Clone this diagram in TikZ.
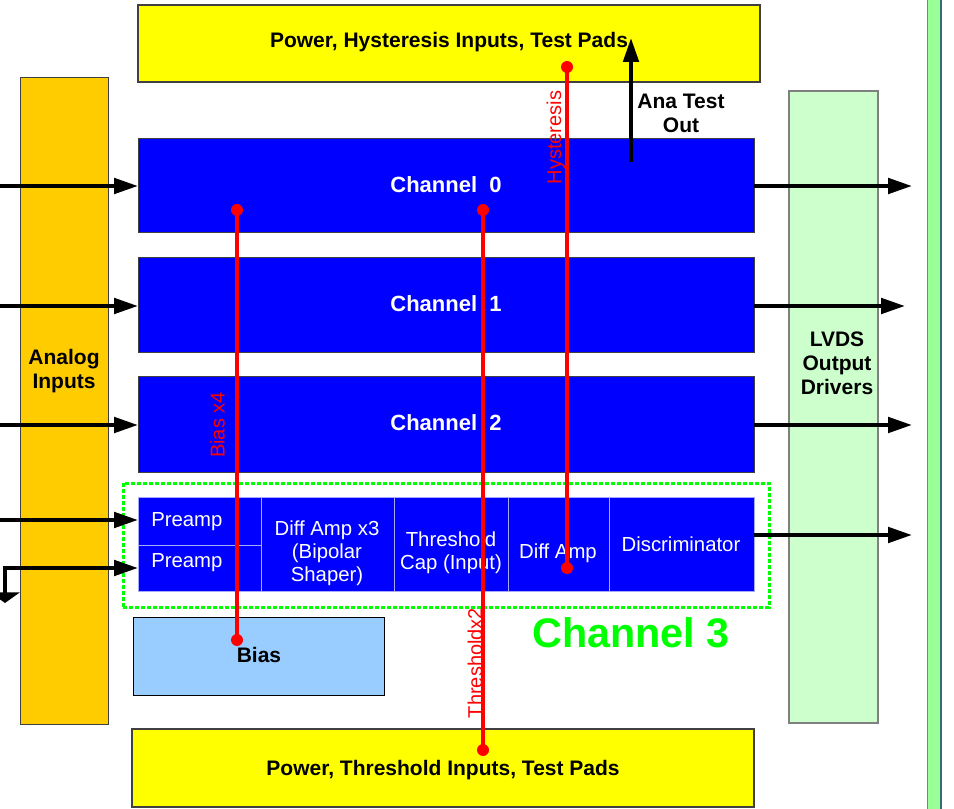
\documentclass[tikz,border=0pt]{standalone}
\usepackage{fontspec}
\setmainfont{Liberation Sans}
\usetikzlibrary{arrows.meta,fit}
\definecolor{padyellow}{HTML}{FFFF00}
\definecolor{inorange}{HTML}{FFCC00}
\definecolor{lvdsgreen}{HTML}{CCFFCC}
\definecolor{bargreen}{HTML}{99FF99}
\definecolor{barteal}{HTML}{307070}
\definecolor{chblue}{HTML}{0000FF}
\definecolor{biasblue}{HTML}{99CCFF}
\definecolor{sepblue}{HTML}{A8A8FF}
\definecolor{chgreen}{HTML}{00FF00}
\definecolor{edgegray}{HTML}{404040}
\begin{document}
\begin{tikzpicture}[x=0.75pt,y=-0.75pt,
  rect/.style={inner sep=0pt,outer sep=0pt},
  padbox/.style={rect,fill=padyellow,draw=edgegray,line width=1pt},
  inbox/.style={rect,fill=inorange,draw=edgegray,line width=0.75pt},
  lvdsbox/.style={rect,fill=lvdsgreen,draw=gray,line width=1pt},
  chbox/.style={rect,fill=chblue,draw=edgegray,line width=0.75pt},
  blk/.style={rect,fill=chblue,draw=sepblue,line width=0.75pt},
  biasbox/.style={rect,fill=biasblue,draw=black,line width=0.75pt},
  ch3frame/.style={rect,draw=chgreen,line width=2.25pt,dash pattern=on 3pt off 1.5pt},
  btxt/.style={inner sep=0pt,anchor=base,font=\bfseries\fontsize{15.75}{18}\selectfont},
  chtxt/.style={btxt,text=white,font=\bfseries\fontsize{16.5}{20}\selectfont},
  wtxt/.style={inner sep=0pt,anchor=base,text=white,font=\fontsize{15.25}{17.25}\selectfont},
  gtxt/.style={inner sep=0pt,anchor=base,text=chgreen,font=\bfseries\fontsize{31}{36}\selectfont},
  redlbl/.style={inner sep=0pt,text=red,rotate=90,font=\fontsize{15}{18}\selectfont},
  arr/.style={line width=3pt,-{Triangle[length=18pt,width=11.5pt]}},
  arrboth/.style={line width=3pt,{Triangle[length=8pt,width=22pt]}-{Triangle[length=18pt,width=11.5pt]}},
  wire/.style={draw=red,line width=2.5pt},
  dot/.style={fill=red}
]
\useasboundingbox (0,0) rectangle (954,809);
% right bar
\fill[bargreen] (927,-2) rectangle (941,811);
\draw[gray,line width=1pt] (927.5,-2) -- (927.5,811);
\draw[barteal,line width=1.5pt] (941,-2) -- (941,811);

% boxes
\node[padbox, fit={(138,5)(760,82)}] (toppad) {};
\node[padbox, fit={(132,729)(754,807)}] (botpad) {};
\node[inbox, fit={(20,78)(108,724)}] (analog) {};
\node[lvdsbox, fit={(789,91)(878,723)}] (lvds) {};
\node[chbox, fit={(138,139)(754,233)}] (ch0) {};
\node[chbox, fit={(138,258)(754,353)}] (ch1) {};
\node[chbox, fit={(138,377)(754,472)}] (ch2) {};
\node[ch3frame, fit={(123,483)(769,607)}] (ch3) {};
\node[blk, fit={(138,497)(261,545)}] (preA) {};
\node[blk, fit={(138,545)(261,591)}] (preB) {};
\node[blk, fit={(261,497)(394,591)}] (dax3) {};
\node[blk, fit={(394,497)(508,591)}] (thcap) {};
\node[blk, fit={(508,497)(609,591)}] (damp) {};
\node[blk, fit={(609,497)(754,591)}] (disc) {};
\node[biasbox, fit={(133,617)(384,695)}] (bias) {};

% texts (for multi-line nodes the base anchor is the last line's baseline)
\node[btxt] (toptxt) at (449,48) {Power, Hysteresis Inputs, Test Pads};
\node[btxt] (bottxt) at (443,775) {Power, Threshold Inputs, Test Pads};
\node[btxt,align=center] (antxt) at (64,389) {Analog\\Inputs};
\node[btxt,align=center] (lvtxt) at (837,395) {LVDS\\Output\\Drivers};
\node[btxt,align=center] (anatxt) at (681,133) {Ana Test\\Out};
\node[chtxt] (ch0txt) at (446,193) {Channel\ \ 0};
\node[chtxt] (ch1txt) at (446,312) {Channel\ \ 1};
\node[chtxt] (ch2txt) at (446,431) {Channel\ \ 2};
\node[btxt] (biastxt) at (259,662) {Bias};
\node[wtxt,anchor=base west] (preAtxt) at (151,527) {Preamp};
\node[wtxt,anchor=base west] (preBtxt) at (151,567) {Preamp};
\node[wtxt,align=center] (daxtxt) at (327,581) {Diff Amp x3\\(Bipolar\\Shaper)};
\node[wtxt,align=center] (thtxt) at (451,569) {Threshold\\Cap (Input)};
\node[wtxt] (damptxt) at (558,558) {Diff Amp};
\node[wtxt] (disctxt) at (681,551) {Discriminator};
\node[gtxt] (ch3txt) at (631,647) {Channel 3};

% input arrows
\coordinate (i0) at (0,186);
\coordinate (i1) at (0,306);
\coordinate (i2) at (0,425);
\coordinate (i3) at (0,520);
\coordinate (i4) at (5,603);
\draw[arr] (i0) -- (ch0.west |- i0);
\draw[arr] (i1) -- (ch1.west |- i1);
\draw[arr] (i2) -- (ch2.west |- i2);
\draw[arr] (i3) -- (preA.west |- i3);
\draw[arrboth] (i4) |- (preB.west);

% output arrows
\coordinate (o0) at (912,186);
\coordinate (o1) at (905,306);
\coordinate (o2) at (912,425);
\coordinate (o3) at (912,535);
\draw[arr] (ch0.east |- o0) -- (o0);
\draw[arr] (ch1.east |- o1) -- (o1);
\draw[arr] (ch2.east |- o2) -- (o2);
\draw[arr] (disc.east |- o3) -- (o3);

% ana test out
\coordinate (anaS) at (631,162);
\coordinate (anaT) at (631,38);
\draw[arr] (anaS) -- (anaT);

% red wires
\coordinate (biasTop) at (237,210);
\coordinate (biasBot) at (237,640);
\coordinate (thTop) at (483,210);
\coordinate (thBot) at (483,750);
\coordinate (hyTop) at (567,67);
\coordinate (hyBot) at (567,568);
\draw[wire] (biasTop) -- (biasBot);
\draw[wire] (thTop) -- (thBot);
\draw[wire] (hyTop) -- (hyBot);
\foreach \p in {biasTop,biasBot,thTop,thBot,hyTop,hyBot}
  \fill[dot] (\p) circle[radius=4.5pt];
\node[redlbl] (biaslbl) at (217.5,425) {Bias x4};
\node[redlbl] (hylbl) at (556,137.5) {Hysteresis};
\node[redlbl] (thlbl) at (475,663) {Thresholdx2};
\end{tikzpicture}
\end{document}
